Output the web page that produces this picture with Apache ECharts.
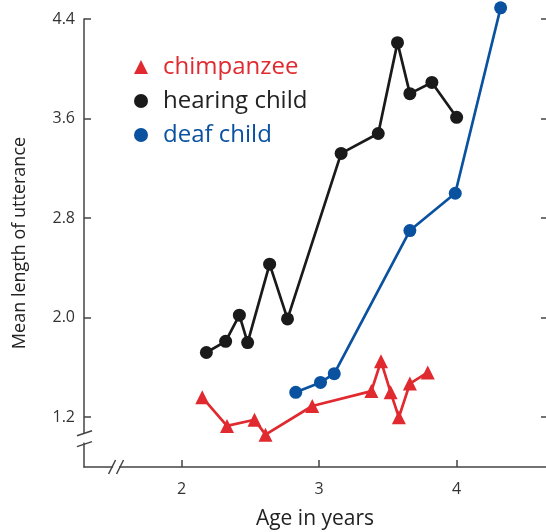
<!DOCTYPE html>
<html><head><meta charset="utf-8">
<script src="https://cdn.jsdelivr.net/npm/echarts@6/dist/echarts.min.js"></script>
<style>html,body{margin:0;padding:0;background:#fff}#c{width:546px;height:532px}</style>
</head><body><div id="c"></div>
<script>
// Data
const ageHearing = [2.18, 2.32, 2.42, 2.48, 2.64, 2.77, 3.16, 3.43, 3.57, 3.66, 3.82, 4.00];
const mluHearing = [1.72, 1.81, 2.02, 1.80, 2.43, 1.99, 3.32, 3.48, 4.21, 3.80, 3.89, 3.61];
const ageDeaf = [2.83, 3.01, 3.11, 3.66, 3.99, 4.32];
const mluDeaf = [1.40, 1.48, 1.55, 2.70, 3.00, 4.49];
const ageChimp = [2.15, 2.33, 2.53, 2.61, 2.95, 3.38, 3.45, 3.52, 3.58, 3.66, 3.79];
const mluChimp = [1.36, 1.13, 1.18, 1.06, 1.29, 1.41, 1.65, 1.40, 1.20, 1.47, 1.56];
const xTicks = [2, 3, 4];
const yTicks = [1.2, 2.0, 2.8, 3.6, 4.4];
const seriesNames = ['chimpanzee', 'hearing child', 'deaf child'];
const colors = ['#e02a2f', '#1a1a1a', '#0a52a0'];
// axis-break positions (in data units)
const yBreaks = [1.075, 0.988];
const xBreaks = [1.494, 1.552];

const zip = (a, b) => a.map((v, i) => [v, b[i]]);
const FONT = '"Open Sans", sans-serif';
const AX = '#444';

const chart = echarts.init(document.getElementById('c'));
chart.setOption({
  animation: false,
  grid: { left: 84, right: 0, top: 19, bottom: 65, containLabel: false, outerBoundsMode: 'none' },
  legend: {
    orient: 'vertical', left: 129, top: 50, itemGap: 10,
    itemWidth: 14, itemHeight: 14,
    textStyle: { fontFamily: FONT, fontSize: 24, lineHeight: 24, padding: [0, 0, 0, 10] },
    data: seriesNames.map((n, i) => ({
      name: n, icon: i === 0 ? 'triangle' : 'circle',
      itemStyle: { color: colors[i] },
      textStyle: { color: i === 1 ? '#222' : colors[i] }
    }))
  },
  xAxis: {
    type: 'value', min: 1.29, max: 4.65,
    name: 'Age in years', nameLocation: 'middle', nameGap: 42,
    nameTextStyle: { fontFamily: FONT, fontSize: 21, color: '#222' },
    axisLine: { lineStyle: { color: AX, width: 1.5 } },
    axisTick: { inside: true, length: 7, customValues: xTicks, lineStyle: { color: AX, width: 1.5 } },
    axisLabel: { customValues: xTicks, margin: 14, fontFamily: FONT, fontSize: 16, color: '#333' },
    splitLine: { show: false }
  },
  yAxis: [{
    type: 'value', min: 0.8, max: 4.4,
    name: 'Mean length of utterance', nameLocation: 'middle', nameGap: 55,
    nameTextStyle: { fontFamily: FONT, fontSize: 18, color: '#222' },
    axisLine: { show: true, lineStyle: { color: AX, width: 1.5 } },
    axisTick: { show: true, inside: true, length: 7, customValues: yTicks, lineStyle: { color: AX, width: 1.5 } },
    axisLabel: { customValues: yTicks, margin: 9, fontFamily: FONT, fontSize: 16, color: '#333',
      formatter: v => v.toFixed(1) },
    splitLine: { show: false }
  }, {
    type: 'value', min: 0.8, max: 4.4, position: 'right',
    axisLine: { show: false },
    axisTick: { show: true, inside: true, length: 5, customValues: yTicks, lineStyle: { color: AX, width: 1.5 } },
    axisLabel: { show: false },
    splitLine: { show: false }
  }],
  series: [
    { name: seriesNames[0], type: 'line', clip: false, data: zip(ageChimp, mluChimp), symbol: 'triangle', symbolSize: 14,
      lineStyle: { color: colors[0], width: 2.7 }, itemStyle: { color: colors[0] } },
    { name: seriesNames[1], type: 'line', clip: false, data: zip(ageHearing, mluHearing), symbol: 'circle', symbolSize: 13,
      lineStyle: { color: colors[1], width: 2.7 }, itemStyle: { color: colors[1] } },
    { name: seriesNames[2], type: 'line', clip: false, data: zip(ageDeaf, mluDeaf), symbol: 'circle', symbolSize: 13,
      lineStyle: { color: colors[2], width: 2.7 }, itemStyle: { color: colors[2] } }
  ]
});

// axis break marks
const px = p => chart.convertToPixel({ gridIndex: 0 }, p);
const yAxisX = px([1.29, 1])[0];
const xAxisY = px([2, 0.8])[1];
const ya = px([1.29, yBreaks[0]])[1], yb = px([1.29, yBreaks[1]])[1];
const xa = px([xBreaks[0], 0.8])[0], xb = px([xBreaks[1], 0.8])[0];
const lineSt = { stroke: AX, lineWidth: 1.5 };
const g = [
  { type: 'rect', z: 100, shape: { x: yAxisX - 3, y: ya + 1, width: 6, height: yb - ya - 2 }, style: { fill: '#fff' } },
  { type: 'line', z: 101, shape: { x1: yAxisX - 7, y1: ya + 3, x2: yAxisX + 8, y2: ya - 2 }, style: lineSt },
  { type: 'line', z: 101, shape: { x1: yAxisX - 7, y1: yb + 3, x2: yAxisX + 8, y2: yb - 2 }, style: lineSt },
  { type: 'rect', z: 100, shape: { x: xa + 1, y: xAxisY - 3, width: xb - xa - 2, height: 6 }, style: { fill: '#fff' } },
  { type: 'line', z: 101, shape: { x1: xa - 3.5, y1: xAxisY + 7, x2: xa + 3.5, y2: xAxisY - 7 }, style: lineSt },
  { type: 'line', z: 101, shape: { x1: xb - 3.5, y1: xAxisY + 7, x2: xb + 3.5, y2: xAxisY - 7 }, style: lineSt }
];
chart.setOption({ graphic: g });
</script></body></html>
